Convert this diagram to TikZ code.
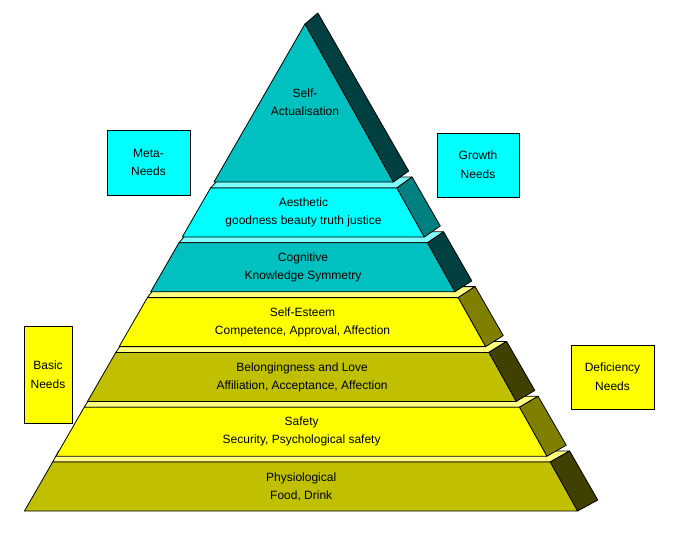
\documentclass[tikz,border=0pt]{standalone}
\usepackage{fontspec}
\setmainfont{Liberation Sans}
\usetikzlibrary{calc}

\definecolor{aqua}{RGB}{0,255,255}
\definecolor{lemon}{RGB}{255,255,0}
\definecolor{tealdith}{RGB}{0,192,192}
\definecolor{tealdark}{RGB}{0,64,64}
\definecolor{tealside}{RGB}{0,128,128}
\definecolor{cyanlight}{RGB}{128,255,255}
\definecolor{olivedith}{RGB}{192,192,0}
\definecolor{olivedark}{RGB}{64,64,0}
\definecolor{oliveside}{RGB}{128,128,0}
\definecolor{yellowlight}{RGB}{255,255,128}

\tikzset{
	declare function={xl(\y)=305-0.5761*(\y-24); xr(\y)=305+0.5597*(\y-24); bx(\x)=1.027*\x+4.6;},
	face/.style={draw=black, line width=0.6pt, line join=round},
	tealfront/.style={face, fill=tealdith},
	cyanfront/.style={face, fill=aqua},
	yellowfront/.style={face, fill=lemon},
	olivefront/.style={face, fill=olivedith},
	darktealside/.style={face, fill=tealdark},
	cyanside/.style={face, fill=tealside},
	darkoliveside/.style={face, fill=olivedark},
	yellowside/.style={face, fill=oliveside},
	cyantop/.style={face, fill=cyanlight},
	yellowtop/.style={face, fill=yellowlight},
	layertext/.style={align=center, font=\fontsize{9}{13.5}\selectfont, inner sep=0pt},
	needbox/.style={draw=black, line width=0.6pt, align=center, inner sep=0pt, font=\fontsize{9}{14}\selectfont},
}

% one block of the pyramid: top edge, front, side, top face, name, text
\def\slab(#1)[#2][#3][#4](#5)#6{%
	\draw[#4] ({xl(#1)},#1) -- ({xr(#1)},#1) -- ({bx(xr(#1))},#1-11) -- ({bx(xl(#1))},#1-11) -- cycle;
	\draw[#3] ({xr(#1)},#1) -- ({xr(#1+49)},#1+49) -- ({bx(xr(#1+49))},#1+38) -- ({bx(xr(#1))},#1-11) -- cycle;
	\draw[#2] ({xl(#1)},#1) -- ({xr(#1)},#1) -- ({xr(#1+49)},#1+49) -- ({xl(#1+49)},#1+49) -- cycle;
	\node[layertext] (#5) at ({(xl(#1+24.5)+xr(#1+24.5))/2},#1+24.5) {#6};
}

\begin{document}
\begin{tikzpicture}[x=0.75pt, y=-0.75pt]
		%%%%% START %%%%%
		\useasboundingbox (0, 0) rectangle (677, 535);
		
		\slab(462)[olivefront][darkoliveside][yellowtop](physio){Physiological\\Food, Drink}
		\slab(407.2)[yellowfront][yellowside][yellowtop](safety){Safety\\Security, Psychological safety}
		\slab(352.4)[olivefront][darkoliveside][yellowtop](belong){Belongingness and Love\\Affiliation, Acceptance, Affection}
		\slab(297.6)[yellowfront][yellowside][yellowtop](esteem){Self-Esteem\\Competence, Approval, Affection}
		\slab(242.8)[tealfront][darktealside][cyantop](cognitive){Cognitive\\Knowledge Symmetry}
		\slab(188)[cyanfront][cyanside][cyantop](aesthetic){Aesthetic\\goodness beauty truth justice}
		
		\draw[darktealside] (305, 24) -- ({xr(182)}, 182) -- ({bx(xr(182))}, 171) -- ({bx(305)}, 13) -- cycle;
		\draw[tealfront] (305, 24) -- ({xr(182)}, 182) -- ({xl(182)}, 182) -- cycle;
		\node[layertext] (selfact) at (305, 102) {Self-\\Actualisation};
		
		\node[needbox, fill=aqua, minimum width=62.25pt, minimum height=48.75pt] (meta) at (148.5, 162.5) {Meta-\\Needs};
		\node[needbox, fill=aqua, minimum width=61.5pt, minimum height=48pt] (growth) at (478, 165) {Growth\\Needs};
		\node[needbox, fill=lemon, minimum width=36pt, minimum height=72.75pt] (basic) at (48, 374.5) {Basic\\Needs};
		\node[needbox, fill=lemon, minimum width=62.25pt, minimum height=48pt] (deficiency) at (612.5, 377) {Deficiency\\Needs};
		
		%%%%% END %%%%%
\end{tikzpicture}
\end{document}
